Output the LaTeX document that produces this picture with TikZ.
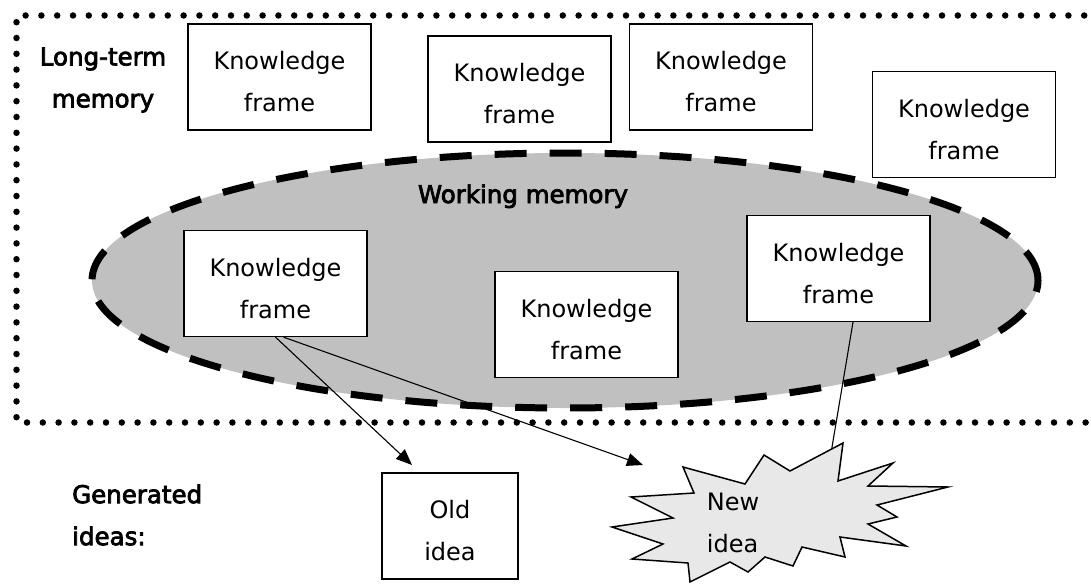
\documentclass[tikz,border=0pt]{standalone}
\usepackage{fontspec}
\setmainfont{DejaVu Sans}
\newfontfamily\lblfont[FakeBold=3]{DejaVu Sans}
\usetikzlibrary{arrows.meta}
\definecolor{wmgray}{RGB}{192,192,192}
\definecolor{burstgray}{RGB}{232,232,232}
\tikzset{
  kf/.style={draw=black, line width=1.3pt, fill=white, minimum width=183pt, minimum height=106pt, inner sep=0pt},
  kftxt/.style={align=center, inner sep=0pt, font=\fontsize{24}{42}\selectfont},
  lbl/.style={inner sep=0pt, font=\lblfont\fontsize{24.5}{42}\selectfont},
  ltmframe/.style={line width=6.5pt, line cap=round, dash pattern=on 0pt off 15.8pt},
  wm/.style={draw=black, line width=7pt, dash pattern=on 32pt off 23pt, fill=wmgray},
  conn/.style={line width=1.1pt},
  arr/.style={line width=1.1pt, -{Triangle[length=16pt,width=13pt]}},
  burst/.style={draw=black, line width=1.5pt, fill=burstgray, line join=miter}
}
\begin{document}
\begin{tikzpicture}[x=1pt,y=-1pt]
\useasboundingbox (0,0) rectangle (1091,583);
% long-term memory frame (open on the right)
\draw[ltmframe] (1100,15.5) -- (16.5,15.5) -- (16.5,422.5) -- (1100,422.5);
% working memory ellipse
\draw[wm] (565,280.5) ellipse [x radius=473pt, y radius=127.5pt];
% long-term memory frames
\node[kf] (k1) at (279.5,77) {};
\node[kftxt] (k1t) at (279.5,82) {Knowledge\\frame};
\node[kf] (k2) at (519.5,89) {};
\node[kftxt] (k2t) at (519.5,94) {Knowledge\\frame};
\node[kf] (k3) at (721,77) {};
\node[kftxt] (k3t) at (721,82) {Knowledge\\frame};
\node[kf] (k4) at (964,124.5) {};
\node[kftxt] (k4t) at (964,129.5) {Knowledge\\frame};
% labels
\node[lbl, align=center] (ltm) at (103,80) {Long-term\\memory};
\node[lbl, anchor=base] (wml) at (523,203) {Working memory};
\node[lbl, align=left, anchor=west] (gen) at (72,515) {Generated\\ideas:};
% working memory frames
\node[kf] (k5) at (275.5,283.5) {};
\node[kftxt] (k5t) at (275.5,288.5) {Knowledge\\frame};
\node[kf] (k6) at (586.5,324.5) {};
\node[kftxt] (k6t) at (586.5,329.5) {Knowledge\\frame};
\node[kf] (k7) at (838.5,268.5) {};
\node[kftxt] (k7t) at (838.5,273.5) {Knowledge\\frame};
% old idea
\node[kf, minimum width=136pt] (old) at (450,526) {};
\node[kftxt] (oldt) at (450,531) {Old\\idea};
% connectors
\coordinate (oldtip) at (412,465);
\coordinate (newtip) at (643,465);
\coordinate (burstin) at (829,465);
\draw[arr] (k5.south) -- (oldtip);
\draw[arr] ([xshift=8pt]k5.south) -- (newtip);
\draw[conn] ([xshift=14.5pt]k7.south) -- (burstin);
% new idea starburst
\draw[burst] (683,467) -- (745,484) -- (764,455) -- (790,471) -- (843,443) -- (838,481)
  -- (893,463) -- (868,486) -- (948,487) -- (877,505) -- (897,517) -- (868,524)
  -- (906,546) -- (840,537) -- (845,557) -- (802,547) -- (793,566) -- (765,557)
  -- (748,572) -- (730,562) -- (690,582) -- (688,563) -- (632,559) -- (663,544)
  -- (612,527) -- (673,518) -- (631,497) -- (694,493) -- cycle;
\node[kftxt, align=left] (newt) at (733,523) {New\\idea};
\end{tikzpicture}
\end{document}
